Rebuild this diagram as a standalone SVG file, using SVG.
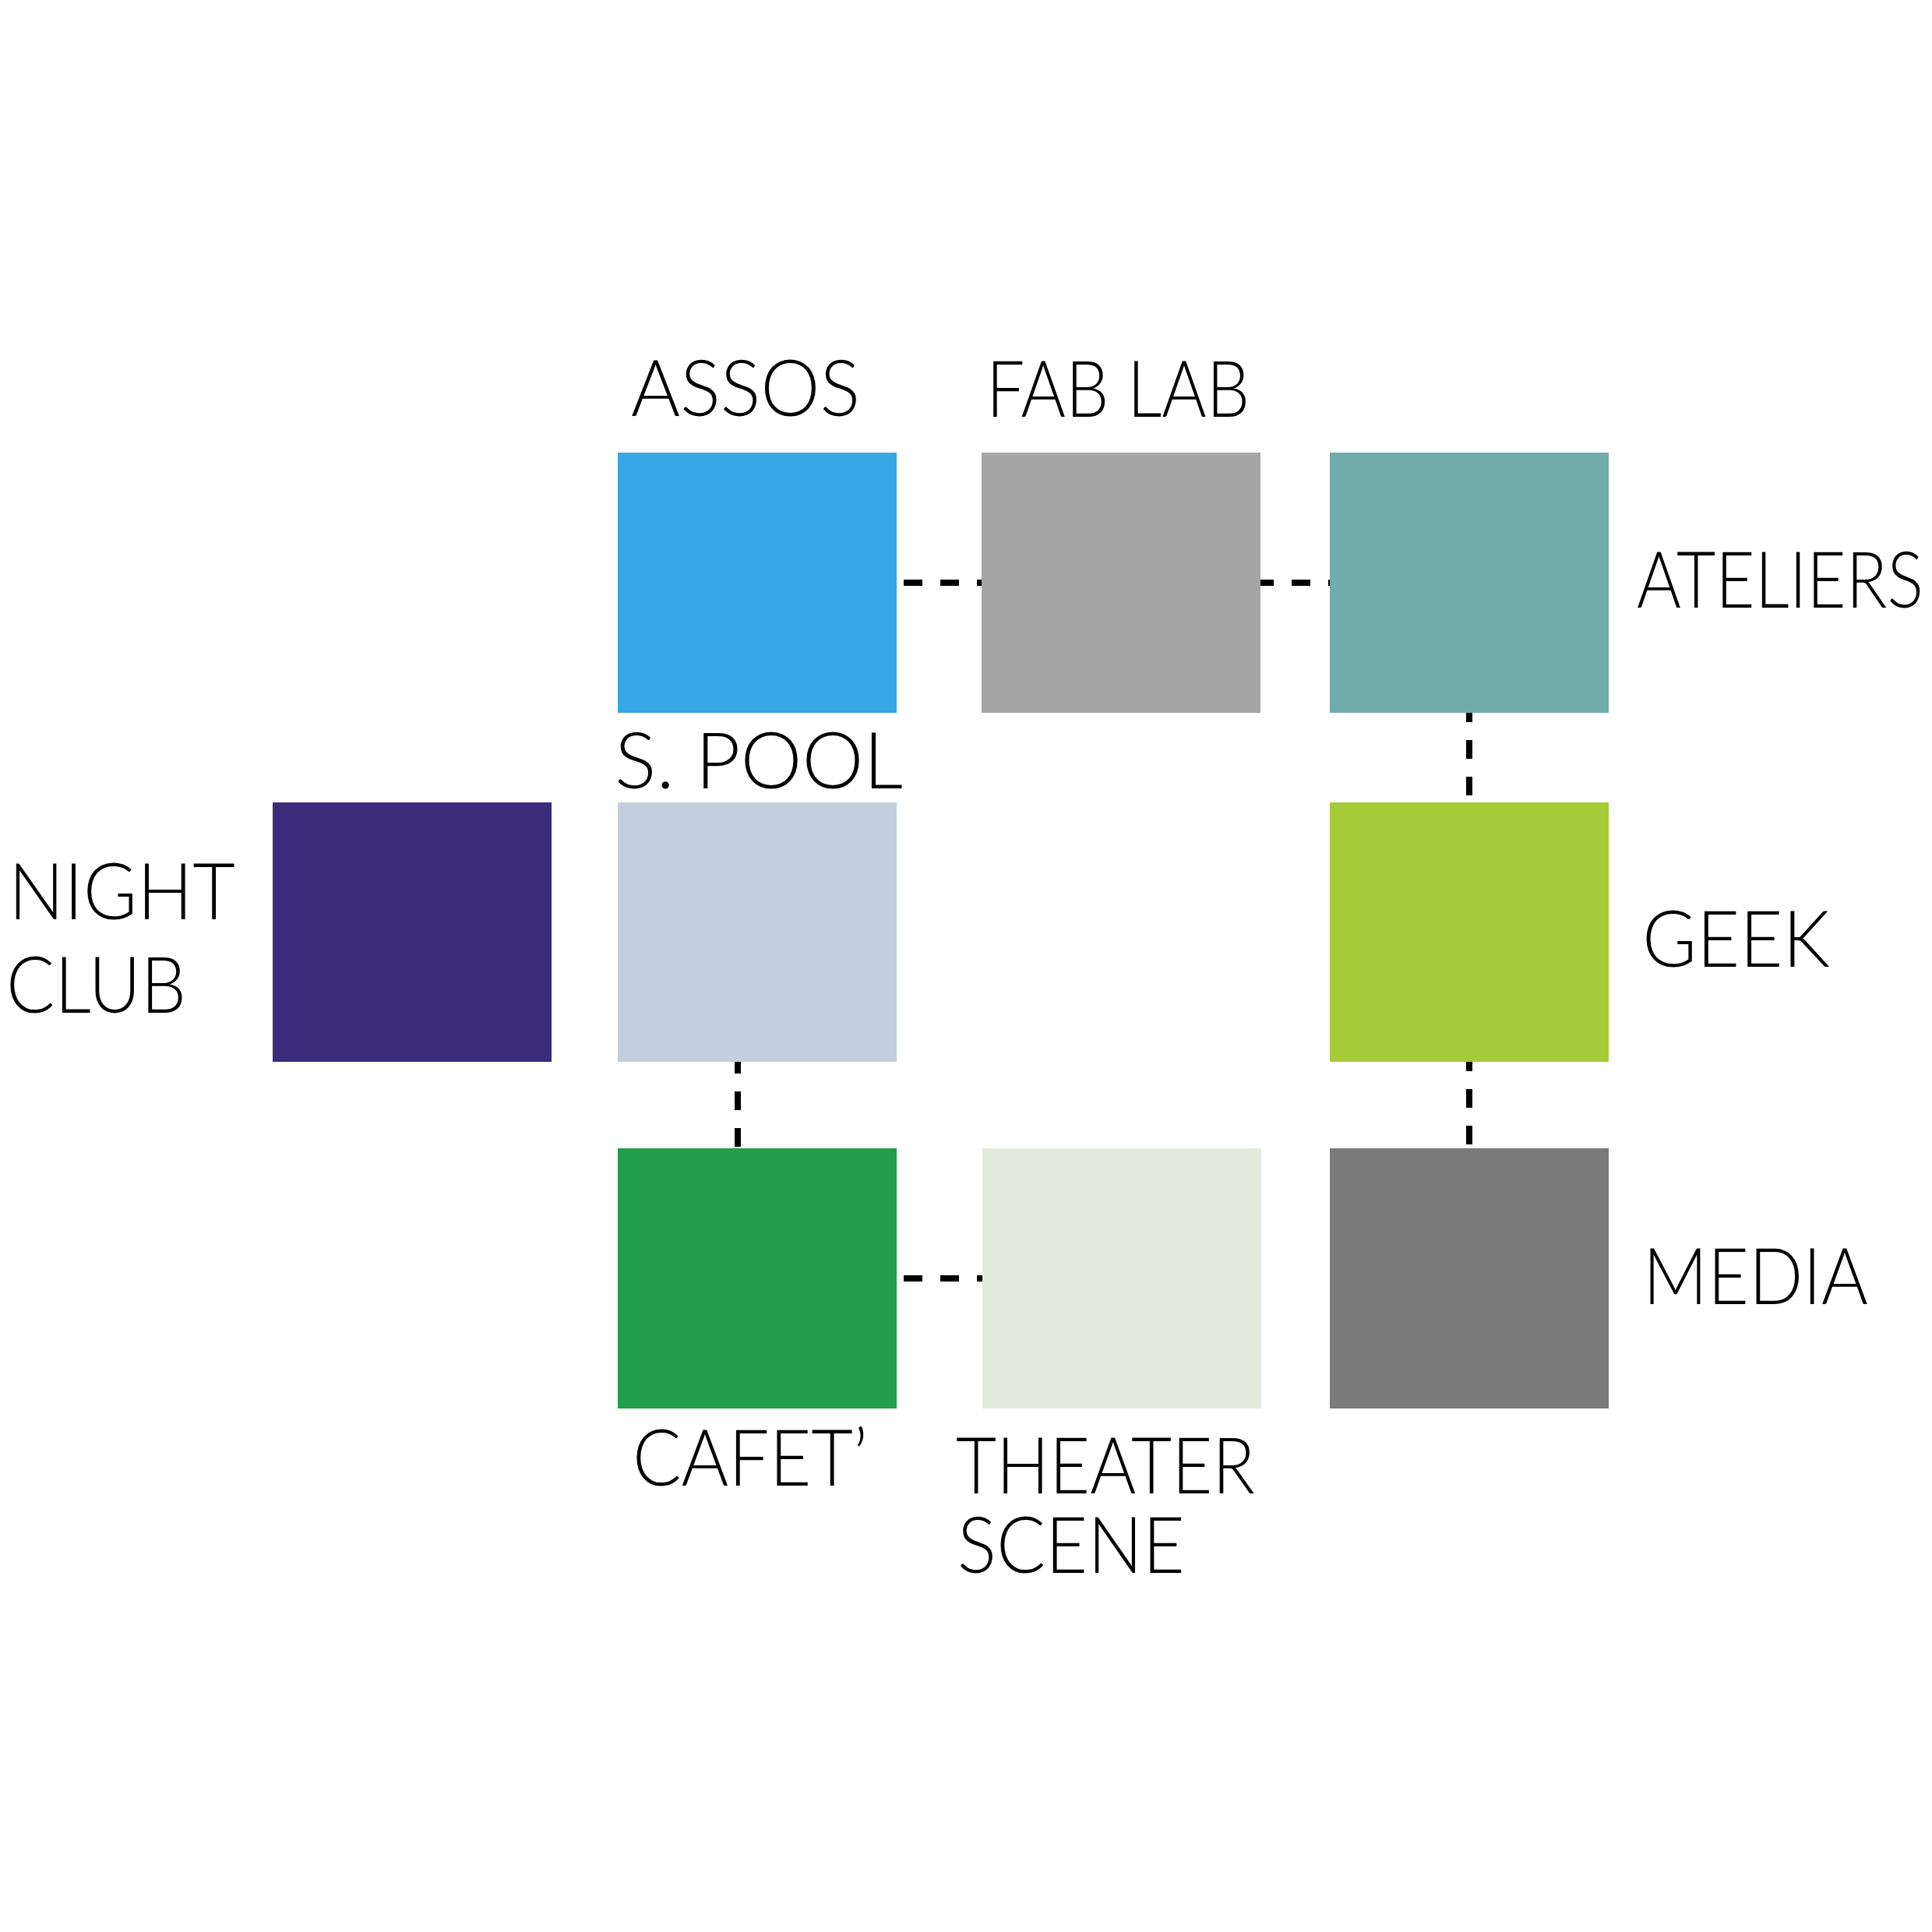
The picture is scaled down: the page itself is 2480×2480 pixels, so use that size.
<svg xmlns="http://www.w3.org/2000/svg" width="2480" height="2480" viewBox="0 0 2480 2480">
<style>
.lbl{font-family:Lato,"Liberation Sans",sans-serif;font-weight:300;font-size:101px;fill:#000}
.dash{stroke:#000;stroke-width:8;stroke-dasharray:24 23;fill:none}
</style>
<rect width="2480" height="2480" fill="#fff"/>
<g id="connectors">
<line class="dash" x1="1160" y1="748" x2="1260" y2="748"/>
<line class="dash" x1="1611" y1="748" x2="1707" y2="748"/>
<line class="dash" x1="1886" y1="903" x2="1886" y2="1030"/>
<line class="dash" x1="1886" y1="1351" x2="1886" y2="1474"/>
<line class="dash" x1="947" y1="1354" x2="947" y2="1474"/>
<line class="dash" x1="1160" y1="1641" x2="1261" y2="1641"/>
</g>
<g id="assos"><rect x="793" y="581" width="358" height="334" fill="#38A7E7"/><text class="lbl" x="810" y="534" textLength="294" lengthAdjust="spacingAndGlyphs">ASSOS</text></g>
<g id="fablab"><rect x="1260" y="581" width="358" height="334" fill="#A5A5A5"/><text class="lbl" x="1266" y="535" textLength="338" lengthAdjust="spacingAndGlyphs">FAB LAB</text></g>
<g id="ateliers"><rect x="1707" y="581" width="358" height="334" fill="#70ACAA"/><text class="lbl" x="2101" y="780" textLength="368" lengthAdjust="spacingAndGlyphs">ATELIERS</text></g>
<g id="nightclub"><rect x="350" y="1030" width="358" height="333" fill="#3A2C7B"/><text class="lbl" x="11" y="1180" textLength="291" lengthAdjust="spacingAndGlyphs">NIGHT</text><text class="lbl" x="8" y="1300" textLength="231" lengthAdjust="spacingAndGlyphs">CLUB</text></g>
<g id="spool"><rect x="793" y="1030" width="358" height="333" fill="#C3CFDF"/><text class="lbl" x="789" y="1012" textLength="370" lengthAdjust="spacingAndGlyphs">S. POOL</text></g>
<g id="geek"><rect x="1707" y="1030" width="358" height="333" fill="#A5CB39"/><text class="lbl" x="2108" y="1241" textLength="241" lengthAdjust="spacingAndGlyphs">GEEK</text></g>
<g id="cafet"><rect x="793" y="1474" width="358" height="334" fill="#239E4A"/><text class="lbl" x="812" y="1907" textLength="302" lengthAdjust="spacingAndGlyphs">CAFET’</text></g>
<g id="theater"><rect x="1261" y="1474" width="358" height="334" fill="#E4EBDE"/><text class="lbl" x="1227" y="1917" textLength="384" lengthAdjust="spacingAndGlyphs">THEATER</text><text class="lbl" x="1229" y="2019" textLength="292" lengthAdjust="spacingAndGlyphs">SCENE</text></g>
<g id="media"><rect x="1707" y="1474" width="358" height="334" fill="#7A7A7A"/><text class="lbl" x="2109" y="1674" textLength="289" lengthAdjust="spacingAndGlyphs">MEDIA</text></g>
</svg>
